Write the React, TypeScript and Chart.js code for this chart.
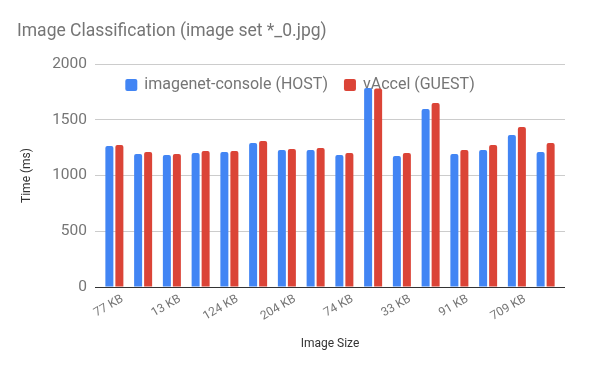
import React, { useEffect, useRef } from "react";
import { Chart, registerables } from "chart.js";

Chart.register(...registerables);

// Categories (only every other label is legible in the reference; hidden ones left blank)
const categories = [
  "77 KB", "", "13 KB", "", "124 KB", "", "204 KB", "",
  "74 KB", "", "33 KB", "", "91 KB", "", "709 KB", "",
];
const hostValues = [1265, 1193, 1184, 1202, 1211, 1291, 1229, 1229, 1184, 1785, 1175, 1596, 1193, 1229, 1363, 1211];
const guestValues = [1274, 1211, 1193, 1220, 1220, 1309, 1238, 1247, 1202, 1780, 1202, 1650, 1229, 1273, 1435, 1291];
const seriesNames = ["imagenet-console (HOST)", "vAccel (GUEST)"];
const seriesColors = ["#4285F4", "#DB4437"];
const yTicks = [0, 500, 1000, 1500, 2000];

const FONT = "Roboto";

// Horizontal legend drawn inside the plot area, beneath the bars (as in the reference)
const innerLegend = {
  id: "innerLegend",
  beforeDatasetsDraw(chart: any) {
    const ctx = chart.ctx;
    const items = chart.data.datasets.map((d: any) => ({ text: d.label, color: d.backgroundColor }));
    const box = 12;
    const boxGap = 7;
    const itemGap = 16;
    ctx.save();
    ctx.font = `16px ${FONT}`;
    const widths = items.map((it: any) => box + boxGap + ctx.measureText(it.text).width);
    const total = widths.reduce((a: number, b: number) => a + b, 0) + itemGap * (items.length - 1);
    let x = chart.width / 2 - total / 2;
    const cy = chart.chartArea.top + 21;
    items.forEach((it: any, i: number) => {
      ctx.fillStyle = it.color;
      ctx.beginPath();
      (ctx as any).roundRect(x, cy - box / 2, box, box, 2);
      ctx.fill();
      ctx.fillStyle = "#757575";
      ctx.textAlign = "left";
      ctx.textBaseline = "middle";
      ctx.fillText(it.text, x + box + boxGap, cy);
      x += widths[i] + itemGap;
    });
    ctx.restore();
  },
};

export default function App() {
  const ref = useRef<HTMLCanvasElement>(null);
  useEffect(() => {
    if (!ref.current) return;
    const gridColor = (ctx: any) => (ctx.tick && ctx.tick.value === 0 ? "#333333" : "#cccccc");
    const chart = new Chart(ref.current, {
      type: "bar",
      data: {
        labels: categories,
        datasets: [
          {
            label: seriesNames[0],
            data: hostValues,
            backgroundColor: seriesColors[0],
            categoryPercentage: 0.696,
            barPercentage: 0.8,
            borderRadius: { topLeft: 2, topRight: 2, bottomLeft: 0, bottomRight: 0 },
            borderSkipped: false,
          },
          {
            label: seriesNames[1],
            data: guestValues,
            backgroundColor: seriesColors[1],
            categoryPercentage: 0.696,
            barPercentage: 0.8,
            borderRadius: { topLeft: 2, topRight: 2, bottomLeft: 0, bottomRight: 0 },
            borderSkipped: false,
          },
        ],
      },
      options: {
        animation: false,
        responsive: true,
        maintainAspectRatio: false,
        layout: { padding: { left: 17, right: 35, top: 0, bottom: 20 } },
        plugins: {
          title: {
            display: true,
            text: "Image Classification (image set *_0.jpg)",
            align: "start",
            color: "#757575",
            font: { family: FONT, size: 17.5, weight: "normal" },
            padding: { top: 21, bottom: 22 },
          },
          legend: { display: false },
          tooltip: { enabled: false },
        },
        scales: {
          x: {
            grid: { display: false },
            border: { display: false },
            ticks: {
              autoSkip: false,
              minRotation: 30,
              maxRotation: 30,
              color: "#757575",
              font: { family: FONT, size: 12 },
              padding: -3,
              labelOffset: 8,
            },
            title: {
              display: true,
              text: "Image Size",
              color: "#333333",
              font: { family: FONT, size: 12 },
              padding: { top: 0, bottom: 0 },
            },
            afterFit: (s: any) => {
              s.height = 64;
            },
          },
          y: {
            min: 0,
            max: 2000,
            afterBuildTicks: (s: any) => {
              s.ticks = yTicks.map((v) => ({ value: v }));
            },
            grid: { color: gridColor, tickLength: 5, drawTicks: true },
            border: { display: false },
            ticks: {
              color: "#757575",
              font: { family: FONT, size: 15.5 },
              padding: 8,
              callback: (v: any) => String(v),
            },
            title: {
              display: true,
              text: "Time (ms)",
              color: "#333333",
              font: { family: FONT, size: 12 },
              padding: { top: 3, bottom: 0 },
            },
            afterFit: (s: any) => {
              s.width = 83;
            },
          },
          y2: {
            position: "right",
            min: 0,
            max: 2000,
            afterBuildTicks: (s: any) => {
              s.ticks = yTicks.map((v) => ({ value: v }));
            },
            grid: { color: gridColor, tickLength: 5, drawTicks: true, drawOnChartArea: false },
            border: { display: false },
            ticks: { display: false },
            afterFit: (s: any) => {
              s.width = 5;
            },
          },
        },
      },
      plugins: [innerLegend],
    } as any);
    return () => chart.destroy();
  }, []);
  return (
    <div style={{ position: "fixed", left: 0, top: 0, width: 600, height: 371, background: "#ffffff" }}>
      <canvas ref={ref} />
    </div>
  );
}
